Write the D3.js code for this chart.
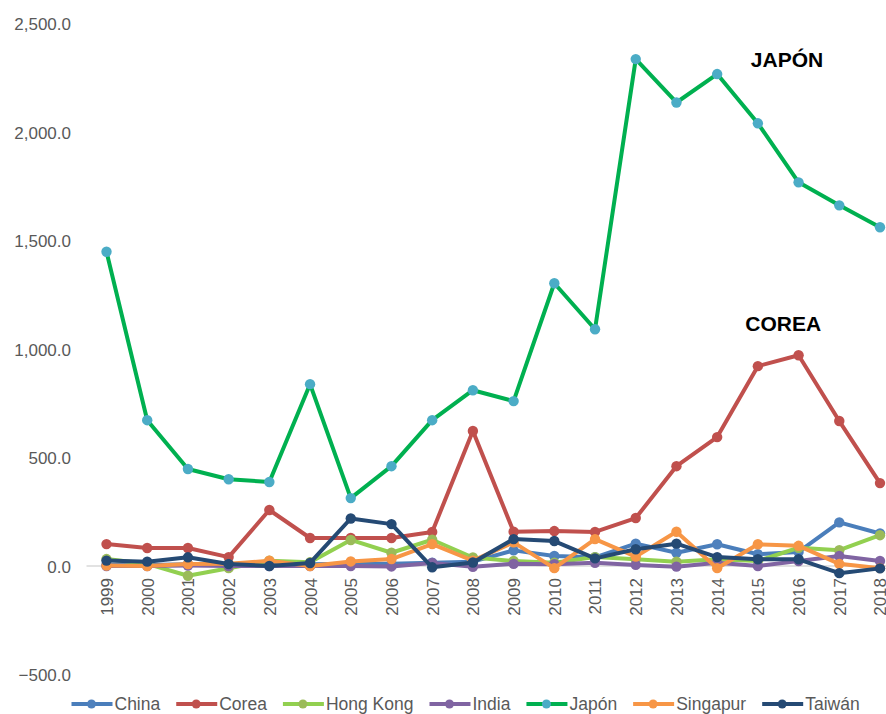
<!DOCTYPE html>
<html>
<head>
<meta charset="utf-8">
<script src="https://cdn.jsdelivr.net/npm/d3@7"></script>
<style>
  html, body { margin: 0; padding: 0; background: #fff; }
  svg { display: block; font-family: "Liberation Sans", Arial, Helvetica, sans-serif; }
</style>
</head>
<body>
<svg id="chart" width="886" height="714"></svg>
<script>
const years = ["1999","2000","2001","2002","2003","2004","2005","2006","2007","2008","2009","2010","2011","2012","2013","2014","2015","2016","2017","2018"];
const yTicks = [-500, 0, 500, 1000, 1500, 2000, 2500];

const china    = [5, 5, 8, 5, 5, 8, 10, 10, 15, 20, 72, 46, 40, 103, 61, 100, 54, 65, 201, 150];
const corea    = [101, 83, 83, 41, 258, 129, 129, 129, 157, 622, 158, 161, 157, 221, 460, 594, 921, 971, 668, 382];
const hongKong = [32, 10, -45, -10, 24, 17, 120, 61, 121, 39, 23, 15, 41, 31, 20, 31, 23, 84, 73, 142];
const india    = [0, 0, 2, 0, 0, 0, 0, -2, 14, -4, 10, 8, 15, 5, -3, 15, 0, 23, 46, 23];
const japon    = [1448, 672, 447, 400, 387, 838, 313, 460, 672, 810, 760, 1303, 1091, 2336, 2136, 2267, 2040, 1768, 1662, 1561];
const singapur = [2, 0, 9, 10, 24, 0, 21, 32, 101, 25, 109, -10, 124, 43, 158, -10, 100, 93, 10, -10];
const taiwan   = [25, 20, 40, 9, 0, 14, 219, 193, -6, 16, 124, 115, 35, 77, 103, 41, 31, 31, -33, -11];

const seriesNames = ["China", "Corea", "Hong Kong", "India", "Japón", "Singapur", "Taiwán"];
const seriesValues = [china, corea, hongKong, india, japon, singapur, taiwan];
const lineColors   = ["#4a7ebb", "#c0504d", "#92d050", "#8064a2", "#00b050", "#f79646", "#254a74"];
const markerColors = ["#4f81bd", "#c0504d", "#9bbb59", "#8064a2", "#4bacc6", "#f79646", "#254a74"];

const annotationTexts  = ["JAPÓN", "COREA"];
const annotationYears  = ["2016", "2016"];
const annotationValues = [2301, 1083];

const svg = d3.select("#chart");
const x = d3.scalePoint().domain(years).range([106.5, 880]);
const y = d3.scaleLinear().domain([-500, 2500]).range([674.5, 23.5]);

// zero line
svg.append("line")
  .attr("x1", 86.5).attr("x2", 886)
  .attr("y1", y(0)).attr("y2", y(0))
  .attr("stroke", "#d9d9d9").attr("stroke-width", 1.5);

// y axis labels
const yAxis = d3.axisLeft(y).tickValues(yTicks).tickSize(0).tickPadding(0)
  .tickFormat(d => d3.format(",.1f")(d));
const gy = svg.append("g").attr("transform", "translate(71,0)").call(yAxis);
gy.select(".domain").remove();
gy.selectAll("text").attr("font-size", 17).attr("fill", "#595959")
  .attr("font-family", "Liberation Sans, Arial, sans-serif").attr("dy", "0.36em");

// x axis labels (rotated)
const xAxis = d3.axisBottom(x).tickSize(0).tickPadding(0);
const gx = svg.append("g").attr("transform", `translate(0,${y(0)})`).call(xAxis);
gx.select(".domain").remove();
gx.selectAll("text")
  .attr("font-size", 17).attr("fill", "#595959")
  .attr("font-family", "Liberation Sans, Arial, sans-serif")
  .attr("text-anchor", "end")
  .attr("transform", "translate(0,12) rotate(-90)")
  .attr("x", 0).attr("y", 0).attr("dy", "0.35em");

const line = d3.line().x((d, i) => x(years[i])).y(d => y(d));

seriesValues.forEach((vals, s) => {
  const g = svg.append("g");
  g.append("path").datum(vals)
    .attr("d", line)
    .attr("fill", "none")
    .attr("stroke", lineColors[s])
    .attr("stroke-width", 4)
    .attr("stroke-linejoin", "round");
  g.selectAll("circle").data(vals).enter().append("circle")
    .attr("cx", (d, i) => x(years[i]))
    .attr("cy", d => y(d))
    .attr("r", 5.2)
    .attr("fill", markerColors[s]);
});

// annotations
const annDx = [-11.6, -15.3];
annotationTexts.forEach((txt, i) => {
  svg.append("text")
    .attr("x", x(annotationYears[i]) + annDx[i])
    .attr("y", y(annotationValues[i]))
    .attr("text-anchor", "middle")
    .attr("font-size", 21).attr("font-weight", "bold").attr("fill", "#000")
    .attr("font-family", "Liberation Sans, Arial, sans-serif")
    .text(txt);
});

// legend
const legend = svg.append("g").attr("transform", "translate(71.5,704)");
let lx = 0;
seriesNames.forEach((name, s) => {
  const item = legend.append("g").attr("transform", `translate(${lx},0)`);
  item.append("line").attr("x1", 0).attr("x2", 41).attr("y1", 0).attr("y2", 0)
    .attr("stroke", lineColors[s]).attr("stroke-width", 4);
  item.append("circle").attr("cx", 20).attr("cy", 0).attr("r", 4.5).attr("fill", markerColors[s]);
  const t = item.append("text").attr("x", 43).attr("y", 0).attr("dy", "0.35em")
    .attr("font-size", 17.5).attr("fill", "#595959")
    .attr("font-family", "Liberation Sans, Arial, sans-serif")
    .text(name);
  lx += 43 + t.node().getComputedTextLength() + 16;
});
</script>
</body>
</html>
